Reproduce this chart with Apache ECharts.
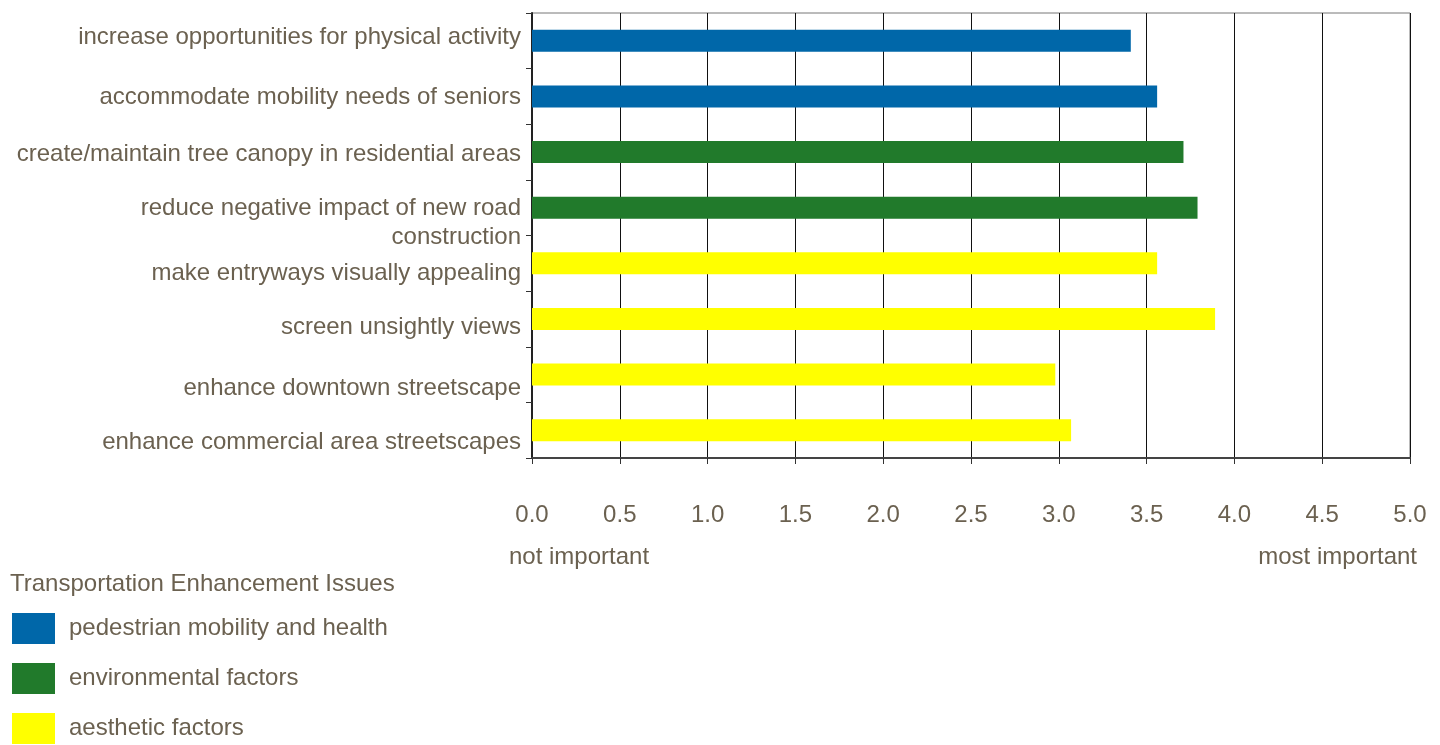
<!DOCTYPE html>
<html>
<head>
<meta charset="utf-8">
<title>Transportation Enhancement Issues</title>
<script src="https://cdn.jsdelivr.net/npm/echarts@6/dist/echarts.min.js"></script>
<style>
  html, body { margin: 0; padding: 0; background: #ffffff; }
  #chart { width: 1440px; height: 745px; }
</style>
</head>
<body>
<div id="chart"></div>
<script>
// Survey items, top to bottom
const categories = [
  'increase opportunities for physical activity',
  'accommodate mobility needs of seniors',
  'create/maintain tree canopy in residential areas',
  'reduce negative impact of new road\nconstruction',
  'make entryways visually appealing',
  'screen unsightly views',
  'enhance downtown streetscape',
  'enhance commercial area streetscapes'
];

// Mean importance ratings, one array per issue group ('-' = item not in group)
const pedestrianValues    = [3.41, 3.56, '-', '-', '-', '-', '-', '-'];
const environmentalValues = ['-', '-', 3.71, 3.79, '-', '-', '-', '-'];
const aestheticValues     = ['-', '-', '-', '-', 3.56, 3.89, 2.98, 3.07];

const seriesNames = ['pedestrian mobility and health', 'environmental factors', 'aesthetic factors'];
const tickLabels = ['0.0', '0.5', '1.0', '1.5', '2.0', '2.5', '3.0', '3.5', '4.0', '4.5', '5.0'];

const textColor = '#6b6150';
const fontFamily = '"Liberation Sans", Arial, Helvetica, sans-serif';
const fontSize = 24;

// Vertical nudge (px) of each category label relative to its band centre
const labelNudge = [-3, 1, 2, 15, 10, 8, 14, 12];

// Rich-text styles: with a fixed line height, top padding moves the text
// down by half its amount and bottom padding moves it up.
const labelRich = {};
labelNudge.forEach(function (s, i) {
  labelRich['n' + i] = {
    lineHeight: 29,
    padding: s >= 0 ? [2 * s, 0, 0, 0] : [0, 0, -2 * s, 0]
  };
});

function formatCategory(value, index) {
  return value.split('\n').map(function (line) {
    return '{n' + index + '|' + line + '}';
  }).join('\n');
}

const chart = echarts.init(document.getElementById('chart'), null, { renderer: 'canvas' });

function barSeries(name, data, color) {
  return {
    name: name,
    type: 'bar',
    stack: 'all',
    data: data,
    barWidth: 22,
    itemStyle: { color: color },
    silent: true
  };
}

chart.setOption({
  animation: false,
  backgroundColor: '#ffffff',
  textStyle: { fontFamily: fontFamily, color: textColor },
  title: {
    text: 'Transportation Enhancement Issues',
    left: 10,
    top: 572,
    padding: 0,
    textStyle: { fontSize: fontSize, fontWeight: 'normal', color: textColor, fontFamily: fontFamily }
  },
  legend: {
    orient: 'vertical',
    left: 12,
    top: 613,
    padding: 0,
    itemWidth: 43,
    itemHeight: 31,
    itemGap: 19,
    icon: 'rect',
    selectedMode: false,
    data: seriesNames,
    textStyle: { fontSize: fontSize, color: textColor, fontFamily: fontFamily, padding: [0, 0, 0, 9] }
  },
  grid: {
    left: 532,
    right: 30,
    top: 13,
    bottom: 287,
    show: true,
    borderColor: '#777777',
    borderWidth: 1
  },
  xAxis: {
    type: 'value',
    min: 0,
    max: 5,
    interval: 0.5,
    axisLine: { show: true, lineStyle: { color: '#444444', width: 2 } },
    axisTick: { show: true, length: 6, lineStyle: { color: '#333333' } },
    splitLine: { show: true, lineStyle: { color: '#111111', width: 1 } },
    axisLabel: {
      margin: 45,
      fontSize: fontSize,
      color: textColor,
      fontFamily: fontFamily,
      formatter: function (v) { return tickLabels[Math.round(v * 2)]; }
    }
  },
  yAxis: {
    type: 'category',
    inverse: true,
    data: categories,
    axisLine: { show: true, lineStyle: { color: '#222222', width: 2 } },
    axisTick: { show: true, length: 6, alignWithLabel: false, lineStyle: { color: '#333333' } },
    splitLine: { show: false },
    axisLabel: {
      margin: 11,
      fontSize: fontSize,
      lineHeight: 29,
      color: textColor,
      fontFamily: fontFamily,
      align: 'right',
      formatter: formatCategory,
      rich: labelRich
    }
  },
  graphic: [
    {
      type: 'text',
      left: 509,
      top: 545,
      style: { text: 'not important', fill: textColor, fontSize: fontSize, fontFamily: fontFamily }
    },
    {
      type: 'text',
      right: 23,
      top: 545,
      style: { text: 'most important', fill: textColor, fontSize: fontSize, fontFamily: fontFamily }
    }
  ],
  series: [
    barSeries(seriesNames[0], pedestrianValues, '#0067a9'),
    barSeries(seriesNames[1], environmentalValues, '#217a2b'),
    barSeries(seriesNames[2], aestheticValues, '#ffff00')
  ]
});
</script>
</body>
</html>
